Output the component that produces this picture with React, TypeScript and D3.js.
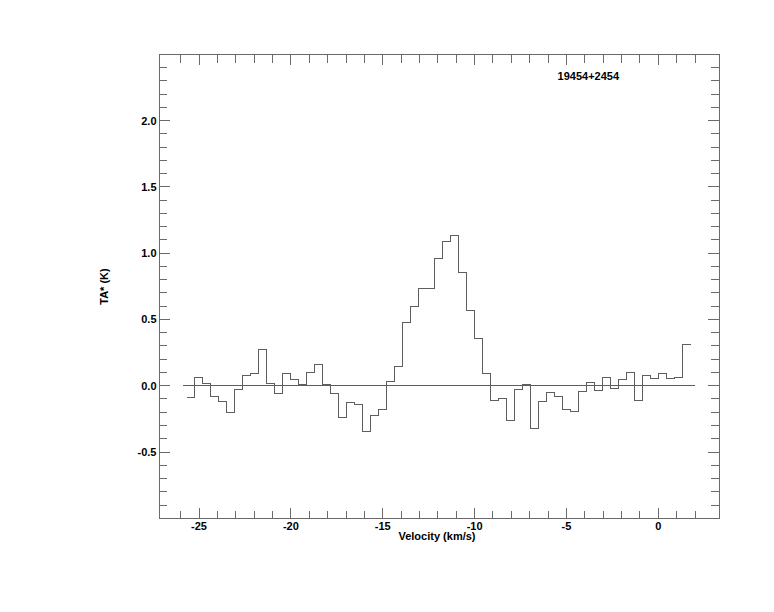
import React from "react";
import * as d3 from "d3";

const title = "19454+2454";
const xLabel = "Velocity (km/s)";
const yLabel = "TA* (K)";

const velocity = [
  -25.46, -25.02, -24.58, -24.15, -23.71, -23.28, -22.84, -22.41, -21.97, -21.54,
  -21.1, -20.66, -20.23, -19.79, -19.36, -18.92, -18.49, -18.05, -17.62, -17.18,
  -16.75, -16.31, -15.87, -15.44, -15.0, -14.57, -14.13, -13.7, -13.26, -12.83,
  -12.39, -11.95, -11.52, -11.08, -10.65, -10.21, -9.78, -9.34, -8.91, -8.47,
  -8.04, -7.6, -7.16, -6.73, -6.29, -5.86, -5.42, -4.99, -4.55, -4.12,
  -3.68, -3.24, -2.81, -2.37, -1.94, -1.5, -1.07, -0.63, -0.2, 0.24,
  0.67, 1.11, 1.54,
];

const ta = [
  -0.09, 0.06, 0.02, -0.085, -0.12, -0.2, -0.03, 0.08, 0.095, 0.27,
  0.02, -0.055, 0.095, 0.05, 0.013, 0.103, 0.163, 0.013, -0.055, -0.236,
  -0.13, -0.138, -0.349, -0.221, -0.183, 0.035, 0.148, 0.48, 0.6, 0.736,
  0.736, 0.961, 1.09, 1.135, 0.851, 0.565, 0.354, 0.095, -0.108, -0.1,
  -0.266, -0.025, 0.013, -0.324, -0.12, -0.048, -0.078, -0.183, -0.191, -0.04,
  0.028, -0.033, 0.065, -0.018, 0.05, 0.103, -0.113, 0.08, 0.058, 0.095,
  0.058, 0.065, 0.309,
];

const xMajorTicks = [-25, -20, -15, -10, -5, 0];
const xTickLabels = ["-25", "-20", "-15", "-10", "-5", "0"];
const xMinorTicks = d3.range(-26, 3, 1);
const yMajorTicks = [-0.5, 0.0, 0.5, 1.0, 1.5, 2.0];
const yTickLabels = ["-0.5", "0.0", "0.5", "1.0", "1.5", "2.0"];
const yMinorTicks = d3.range(-9, 25, 1).map((d) => d / 10);

const W = 774;
const H = 612;
const left = 159.3;
const right = 719.3;
const top = 54.3;
const bottom = 518.3;

const xDomain: [number, number] = [(left - 658.3) / 18.37, (right - 658.3) / 18.37];
const yDomain: [number, number] = [-1.0, 2.5];

const FRAME = "#6a6a6a";
const LINE = "#5e5e5e";
const FONT = "'Liberation Sans', Arial, Helvetica, sans-serif";

export default function App() {
  const x = d3.scaleLinear().domain(xDomain).range([left, right]);
  const y = d3.scaleLinear().domain(yDomain).range([bottom, top]);

  const n = velocity.length;
  const edges: number[] = [];
  edges.push(velocity[0] - (velocity[1] - velocity[0]) / 2);
  for (let i = 0; i < n - 1; i++) edges.push((velocity[i] + velocity[i + 1]) / 2);
  edges.push(velocity[n - 1] + (velocity[n - 1] - velocity[n - 2]) / 2);
  const pts: [number, number][] = ta.map((v, i) => [edges[i], v]);
  pts.push([edges[n], ta[n - 1]]);
  const stepLine = d3
    .line<[number, number]>()
    .x((d) => x(d[0]))
    .y((d) => y(d[1]))
    .curve(d3.curveStepAfter);

  const dv = velocity[1] - velocity[0];
  const baseStart = velocity[0] - dv;
  const baseEnd = velocity[n - 1] + dv;

  const xMinorLenB = 7;
  const xMinorLenT = 9;
  const xMajorLen = 10.5;
  const yMinorLen = 8;
  const yMajorLen = 11;

  return (
    <svg
      width={W}
      height={H}
      style={{ position: "absolute", left: 0, top: 0, background: "#fff" }}
      fontFamily={FONT}
    >
      <rect x={0} y={0} width={W} height={H} fill="#fff" />
      <g stroke={FRAME} strokeWidth={1} fill="none" shapeRendering="crispEdges">
        <rect x={left} y={top} width={right - left} height={bottom - top} />
        {xMinorTicks
          .filter((t) => !xMajorTicks.includes(t))
          .map((t) => (
            <g key={"xm" + t}>
              <line x1={x(t)} x2={x(t)} y1={bottom} y2={bottom - xMinorLenB} />
              <line x1={x(t)} x2={x(t)} y1={top} y2={top + xMinorLenT} />
            </g>
          ))}
        {xMajorTicks.map((t) => (
          <g key={"xM" + t}>
            <line x1={x(t)} x2={x(t)} y1={bottom} y2={bottom - xMajorLen} />
            <line x1={x(t)} x2={x(t)} y1={top} y2={top + xMajorLen} />
          </g>
        ))}
        {yMinorTicks
          .filter((t) => !yMajorTicks.some((m) => Math.abs(m - t) < 1e-6))
          .map((t) => (
            <g key={"ym" + t}>
              <line x1={left} x2={left + yMinorLen} y1={y(t)} y2={y(t)} />
              <line x1={right} x2={right - yMinorLen} y1={y(t)} y2={y(t)} />
            </g>
          ))}
        {yMajorTicks.map((t) => (
          <g key={"yM" + t}>
            <line x1={left} x2={left + yMajorLen} y1={y(t)} y2={y(t)} />
            <line x1={right} x2={right - yMajorLen} y1={y(t)} y2={y(t)} />
          </g>
        ))}
      </g>

      <line
        x1={x(baseStart)}
        x2={x(baseEnd)}
        y1={y(0)}
        y2={y(0)}
        stroke={LINE}
        strokeWidth={1}
        shapeRendering="crispEdges"
      />
      <path d={stepLine(pts) || ""} fill="none" stroke={LINE} strokeWidth={1} shapeRendering="crispEdges" />

      <g fontSize={11} fontWeight="bold" fill="#000">
        {xMajorTicks.map((t, i) => (
          <text key={"xl" + t} x={x(t)} y={529.5} textAnchor="middle">
            {xTickLabels[i]}
          </text>
        ))}
        {yMajorTicks.map((t, i) => (
          <text key={"yl" + t} x={156.5} y={y(t) + 4} textAnchor="end">
            {yTickLabels[i]}
          </text>
        ))}
        <text x={437} y={540} textAnchor="middle">
          {xLabel}
        </text>
        <text x={0} y={0} textAnchor="middle" transform={`translate(107.5, 286.5) rotate(-90)`}>
          {yLabel}
        </text>
        <text x={588.3} y={79.5} textAnchor="middle">
          {title}
        </text>
      </g>
    </svg>
  );
}
